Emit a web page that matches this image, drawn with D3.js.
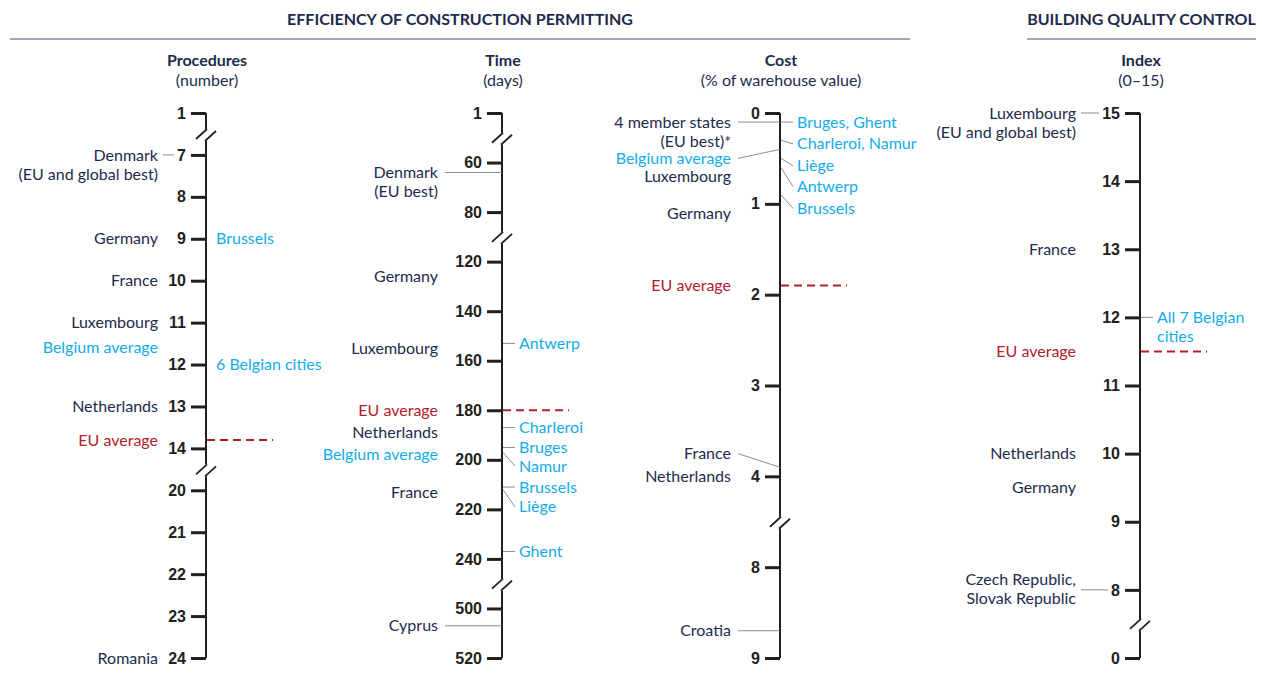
<!DOCTYPE html>
<html lang="en">
<head>
  <meta charset="UTF-8">
  <title>Construction permitting</title>
  <style>
    body { margin: 0; background: #fff; }
    svg { display: block; font-family: Lato, 'Open Sans', sans-serif; }
    .tick text { font-size: 16px; font-weight: bold; fill: #231f20; }
    .tick line { stroke: #231f20; stroke-width: 3; }
  </style>
</head>
<body>
  <svg width="1262" height="692"></svg>
  <script src="https://d3js.org/d3.v7.min.js"></script>
  <script>
    // tick values of each broken axis
    const procTicks = [1, 7, 8, 9, 10, 11, 12, 13, 14, 20, 21, 22, 23, 24];
    const procBreaks = [[1, 7], [14, 20]];
    const timeTicks = [1, 60, 80, 120, 140, 160, 180, 200, 220, 240, 500, 520];
    const timeBreaks = [[1, 60], [80, 120], [240, 500]];
    const costTicks = [0, 1, 2, 3, 4, 8, 9];
    const costBreaks = [[4, 8]];
    const indexTicks = [15, 14, 13, 12, 11, 10, 9, 8, 0];
    const indexBreaks = [[8, 0]];

    // economies / cities and their values
    const procLeft = [
      { name: "Denmark\n(EU and global best)", value: 7, group: "country" },
      { name: "Germany", value: 9, group: "country" },
      { name: "France", value: 10, group: "country" },
      { name: "Luxembourg", value: 11, group: "country" },
      { name: "Belgium average", value: 11.6, group: "belgium" },
      { name: "Netherlands", value: 13, group: "country" },
      { name: "EU average", value: 13.8, group: "eu" },
      { name: "Romania", value: 24, group: "country" }
    ];
    const procRight = [
      { name: "Brussels", value: 9, group: "belgium" },
      { name: "6 Belgian cities", value: 12, group: "belgium" }
    ];

    const timeLeft = [
      { name: "Denmark\n(EU best)", value: 64, group: "country" },
      { name: "Germany", value: 126, group: "country" },
      { name: "Luxembourg", value: 155, group: "country" },
      { name: "EU average", value: 180, group: "eu" },
      { name: "Netherlands", value: 189, group: "country" },
      { name: "Belgium average", value: 198, group: "belgium" },
      { name: "France", value: 213, group: "country" },
      { name: "Cyprus", value: 507, group: "country" }
    ];
    const timeRight = [
      { name: "Antwerp", value: 153, group: "belgium" },
      { name: "Charleroi", value: 187, group: "belgium" },
      { name: "Bruges", value: 195, group: "belgium" },
      { name: "Namur", value: 197, group: "belgium" },
      { name: "Brussels", value: 211, group: "belgium" },
      { name: "Liège", value: 212, group: "belgium" },
      { name: "Ghent", value: 237, group: "belgium" }
    ];

    const costLeft = [
      { name: "4 member states\n(EU best)*", value: 0.1, group: "country" },
      { name: "Belgium average", value: 0.4, group: "belgium" },
      { name: "Luxembourg", value: 0.7, group: "country" },
      { name: "Germany", value: 1.1, group: "country" },
      { name: "EU average", value: 1.9, group: "eu" },
      { name: "France", value: 3.9, group: "country" },
      { name: "Netherlands", value: 4.0, group: "country" },
      { name: "Croatia", value: 8.7, group: "country" }
    ];
    const costRight = [
      { name: "Bruges, Ghent", value: 0.1, group: "belgium" },
      { name: "Charleroi, Namur", value: 0.3, group: "belgium" },
      { name: "Liège", value: 0.5, group: "belgium" },
      { name: "Antwerp", value: 0.6, group: "belgium" },
      { name: "Brussels", value: 0.9, group: "belgium" }
    ];

    const indexLeft = [
      { name: "Luxembourg\n(EU and global best)", value: 15, group: "country" },
      { name: "France", value: 13, group: "country" },
      { name: "EU average", value: 11.5, group: "eu" },
      { name: "Netherlands", value: 10, group: "country" },
      { name: "Germany", value: 9.5, group: "country" },
      { name: "Czech Republic,\nSlovak Republic", value: 8, group: "country" }
    ];
    const indexRight = [
      { name: "All 7 Belgian\ncities", value: 12, group: "belgium" }
    ];

    const colors = { country: "#1d2b4c", belgium: "#14ace8", eu: "#b3202a" };
    const axisTop = 113, axisBottom = 658;

    // layout of each panel (label shifts are in axis units)
    const panels = [
      { title: "Procedures", unit: "(number)", x: 206, gap: 48,
        ticks: procTicks, breaks: procBreaks, left: procLeft, right: procRight,
        labelAt: {}, leadLeft: ["Denmark\n(EU and global best)"], leadRight: [] },
      { title: "Time", unit: "(days)", x: 502, gap: 64,
        ticks: timeTicks, breaks: timeBreaks, left: timeLeft, right: timeRight,
        labelAt: { "Namur": 202.5, "Liège": 219 },
        leadLeft: ["Denmark\n(EU best)", "Cyprus"], leadRight: timeRight.map(d => d.name) },
      { title: "Cost", unit: "(% of warehouse value)", x: 780, gap: 49,
        ticks: costTicks, breaks: costBreaks, left: costLeft, right: costRight,
        labelAt: { "Belgium average": 0.5, "Charleroi, Namur": 0.34, "Liège": 0.58,
                   "Antwerp": 0.81, "Brussels": 1.05, "France": 3.75 },
        leadLeft: ["4 member states\n(EU best)*", "Belgium average", "France", "Croatia"],
        leadRight: costRight.map(d => d.name) },
      { title: "Index", unit: "(0–15)", x: 1140, gap: 64,
        ticks: indexTicks, breaks: indexBreaks, left: indexLeft, right: indexRight,
        labelAt: { "Czech Republic,\nSlovak Republic": 8.15 },
        leadLeft: ["Luxembourg\n(EU and global best)", "Czech Republic,\nSlovak Republic"],
        leadRight: ["All 7 Belgian\ncities"] }
    ];

    const svg = d3.select('svg');

    // section headers
    const sections = [
      { text: "EFFICIENCY OF CONSTRUCTION PERMITTING", x1: 10, x2: 910 },
      { text: "BUILDING QUALITY CONTROL", x1: 1027, x2: 1256 }
    ];
    sections.forEach(s => {
      svg.append('text')
        .attr('x', (s.x1 + s.x2) / 2).attr('y', 25)
        .attr('text-anchor', 'middle')
        .style('font-size', '16px').style('font-weight', 'bold')
        .style('fill', colors.country)
        .text(s.text);
      svg.append('line')
        .attr('x1', s.x1).attr('x2', s.x2).attr('y1', 39).attr('y2', 39)
        .style('stroke', '#a4a7b8').style('stroke-width', 2);
    });

    function addText(g, str, x, y, anchor, color) {
      const t = g.append('text')
        .attr('x', x).attr('y', y)
        .attr('text-anchor', anchor)
        .style('font-size', '16px')
        .style('fill', color);
      str.split('\n').forEach((line, i) => {
        t.append('tspan').attr('x', x).attr('dy', i === 0 ? '0.35em' : 19).text(line);
      });
      return t;
    }

    panels.forEach(p => {
      const step = (axisBottom - axisTop) / (p.ticks.length - 1);
      const y = d3.scaleLinear().domain(p.ticks).range(p.ticks.map((d, i) => axisTop + i * step));
      const g = svg.append('g');

      // column title
      g.append('text').attr('x', p.x + 1).attr('y', 66).attr('text-anchor', 'middle')
        .style('font-size', '16px').style('font-weight', 'bold').style('fill', colors.country)
        .text(p.title);
      g.append('text').attr('x', p.x + 1).attr('y', 86).attr('text-anchor', 'middle')
        .style('font-size', '16px').style('fill', colors.country)
        .text(p.unit);

      // ticks
      const axis = g.append('g')
        .attr('transform', `translate(${p.x},0)`)
        .call(d3.axisLeft(y).tickValues(p.ticks).tickSize(15).tickPadding(5).tickFormat(d3.format('d')));
      axis.select('.domain').remove();

      // axis line with breaks
      let start = y(p.ticks[0]);
      p.breaks.forEach(b => {
        const yb = (y(b[0]) + y(b[1])) / 2;
        g.append('line').attr('x1', p.x).attr('x2', p.x).attr('y1', start).attr('y2', yb - 5)
          .style('stroke', '#231f20').style('stroke-width', 2);
        g.append('line').attr('x1', p.x - 10).attr('y1', yb + 5).attr('x2', p.x + 1).attr('y2', yb - 5)
          .style('stroke', '#231f20').style('stroke-width', 1.8);
        g.append('line').attr('x1', p.x - 1).attr('y1', yb + 7).attr('x2', p.x + 10).attr('y2', yb - 3)
          .style('stroke', '#231f20').style('stroke-width', 1.8);
        start = yb + 7;
      });
      g.append('line').attr('x1', p.x).attr('x2', p.x)
        .attr('y1', start).attr('y2', y(p.ticks[p.ticks.length - 1]))
        .style('stroke', '#231f20').style('stroke-width', 2);

      const tickWidth = {};
      axis.selectAll('.tick text').each(function(d) { tickWidth[d] = this.getComputedTextLength(); });

      // left labels
      const lx = p.x - p.gap;
      p.left.forEach(d => {
        const at = p.labelAt[d.name] !== undefined ? p.labelAt[d.name] : d.value;
        addText(g, d.name, lx, y(at), 'end', colors[d.group]);
        if (p.leadLeft.includes(d.name)) {
          const onTick = p.ticks.includes(d.value);
          // leaders to a tick number stay level; others run to the axis
          const x2 = onTick ? p.x - 20 - tickWidth[d.value] - 3 : p.x;
          g.append('line')
            .attr('x1', lx + (onTick ? 5 : 7)).attr('y1', onTick ? y(d.value) : y(at))
            .attr('x2', x2).attr('y2', y(d.value))
            .style('stroke', '#8c8c8c').style('stroke-width', 1);
        }
        if (d.group === 'eu') {
          g.append('line')
            .attr('x1', p.x + 1).attr('x2', p.x + 67)
            .attr('y1', y(d.value)).attr('y2', y(d.value))
            .style('stroke', colors.eu).style('stroke-width', 2)
            .style('stroke-dasharray', '8,5');
        }
      });

      // right labels
      p.right.forEach(d => {
        const at = p.labelAt[d.name] !== undefined ? p.labelAt[d.name] : d.value;
        const lead = p.leadRight.includes(d.name);
        addText(g, d.name, p.x + (lead ? 17 : 10), y(at), 'start', colors[d.group]);
        if (lead) {
          g.append('line')
            .attr('x1', p.x + 1).attr('y1', y(d.value))
            .attr('x2', p.x + 13).attr('y2', y(at))
            .style('stroke', '#8c8c8c').style('stroke-width', 1);
        }
      });
    });
  </script>
</body>
</html>
